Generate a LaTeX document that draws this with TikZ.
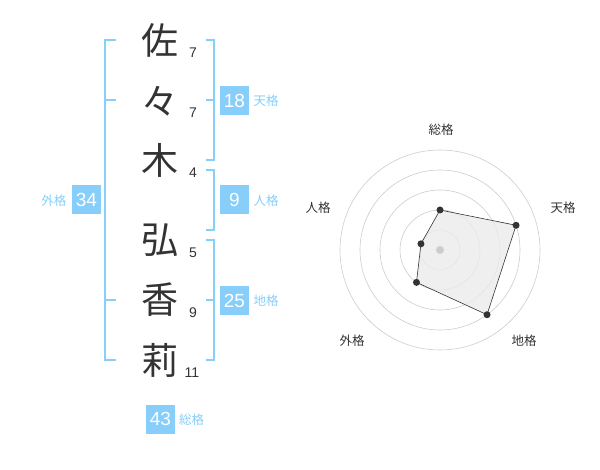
\documentclass[tikz,border=0pt]{standalone}
\usepackage{fontspec}
\setmainfont{Liberation Sans}
\newfontfamily\jp{Noto Sans CJK JP}
\definecolor{sky}{HTML}{87CEFA}
\definecolor{ink}{HTML}{333333}
\definecolor{ring}{HTML}{CCCCCC}
\begin{document}
\begin{tikzpicture}[x=1pt,y=-1pt,
  kanji/.style={font=\jp\fontsize{37}{37}\selectfont, text=ink, inner sep=0pt},
  strokes/.style={font=\fontsize{14}{14}\selectfont, text=ink, inner sep=0pt},
  bracket/.style={draw=sky, line width=2pt},
  valbox/.style={fill=sky, text=white, minimum width=29pt, minimum height=29pt, inner sep=0pt, font=\fontsize{19}{19}\selectfont},
  vallabel/.style={text=sky, font=\jp\fontsize{12.5}{12.5}\selectfont, inner sep=0pt},
  rlabel/.style={text=ink, font=\jp\fontsize{12.5}{12.5}\selectfont, inner sep=0pt},
  dot/.style={circle, fill=ink, minimum size=7pt, inner sep=0pt}]
\useasboundingbox (0,0) rectangle (600,470);
% characters
\node[kanji] (c1) at (160,40) {佐};
\node[kanji] (c2) at (160,101) {々};
\node[kanji] (c3) at (160,160) {木};
\node[kanji] (c4) at (160,240) {弘};
\node[kanji] (c5) at (160,300) {香};
\node[kanji] (c6) at (160,360) {莉};
\node[strokes] (s1) at (193,53) {7};
\node[strokes] (s2) at (193,113) {7};
\node[strokes] (s3) at (193,173) {4};
\node[strokes] (s4) at (193,253) {5};
\node[strokes] (s5) at (193,313) {9};
\node[strokes] (s6) at (192,373) {11};
% left bracket
\coordinate (L1) at (116,40); \coordinate (L2) at (105,40);
\coordinate (L3) at (105,360); \coordinate (L4) at (116,360);
\coordinate (L5) at (105,100); \coordinate (L6) at (116,100);
\coordinate (L7) at (105,300); \coordinate (L8) at (116,300);
\draw[bracket] (L1) -- (L2) -- (L3) -- (L4);
\draw[bracket] (L5) -- (L6);
\draw[bracket] (L7) -- (L8);
% tenkaku bracket
\coordinate (T1) at (206,40); \coordinate (T2) at (214,40);
\coordinate (T3) at (214,160); \coordinate (T4) at (206,160);
\coordinate (T5) at (214,100); \coordinate (T7) at (206,100);
\draw[bracket] (T1) -- (T2) -- (T3) -- (T4);
\draw[bracket] (T7) -- (T5);
% jinkaku bracket
\coordinate (J1) at (206,170); \coordinate (J2) at (214,170);
\coordinate (J3) at (214,230); \coordinate (J4) at (206,230);
\draw[bracket] (J1) -- (J2) -- (J3) -- (J4);
% chikaku bracket
\coordinate (C1) at (206,240); \coordinate (C2) at (214,240);
\coordinate (C3) at (214,360); \coordinate (C4) at (206,360);
\coordinate (C5) at (206,300); \coordinate (C6) at (214,300);
\draw[bracket] (C1) -- (C2) -- (C3) -- (C4);
\draw[bracket] (C5) -- (C6);
% value boxes
\node[valbox] (b18) at (234.5,100.5) {18};
\node[vallabel] (l18) at (266,101) {天格};
\node[valbox] (b9) at (234.5,200) {9};
\node[vallabel] (l9) at (266,201) {人格};
\node[valbox] (b25) at (234.5,300.5) {25};
\node[vallabel] (l25) at (266,301) {地格};
\node[valbox] (b34) at (86.5,200) {34};
\node[vallabel] (l34) at (54,201) {外格};
\node[valbox] (b43) at (160.5,419) {43};
\node[vallabel] (l43) at (191.5,420) {総格};
% radar chart
\coordinate (O) at (440,250);
\foreach \r in {20,40,60,80,100} \draw[ring, line width=0.6pt] (O) circle (\r);
\begin{scope}[shift={(440,250)}, y=1pt]
  \coordinate (p1) at (90:40);
  \coordinate (p2) at (18:80);
  \coordinate (p3) at (-54:80);
  \coordinate (p4) at (-126:40);
  \coordinate (p5) at (162:20);
\end{scope}
\draw[ink, line width=0.6pt, fill=black!8, fill opacity=0.8] (p1) -- (p2) -- (p3) -- (p4) -- (p5) -- cycle;
\node[circle, fill=ring, minimum size=8pt, inner sep=0pt] (ctr) at (O) {};
\foreach \p in {p1,p2,p3,p4,p5} \node[dot] (d\p) at (\p) {};
\node[rlabel] (r1) at (441,130) {総格};
\node[rlabel] (r2) at (563,208) {天格};
\node[rlabel] (r3) at (524,341) {地格};
\node[rlabel] (r4) at (352,341) {外格};
\node[rlabel] (r5) at (318,208) {人格};
\end{tikzpicture}
\end{document}
